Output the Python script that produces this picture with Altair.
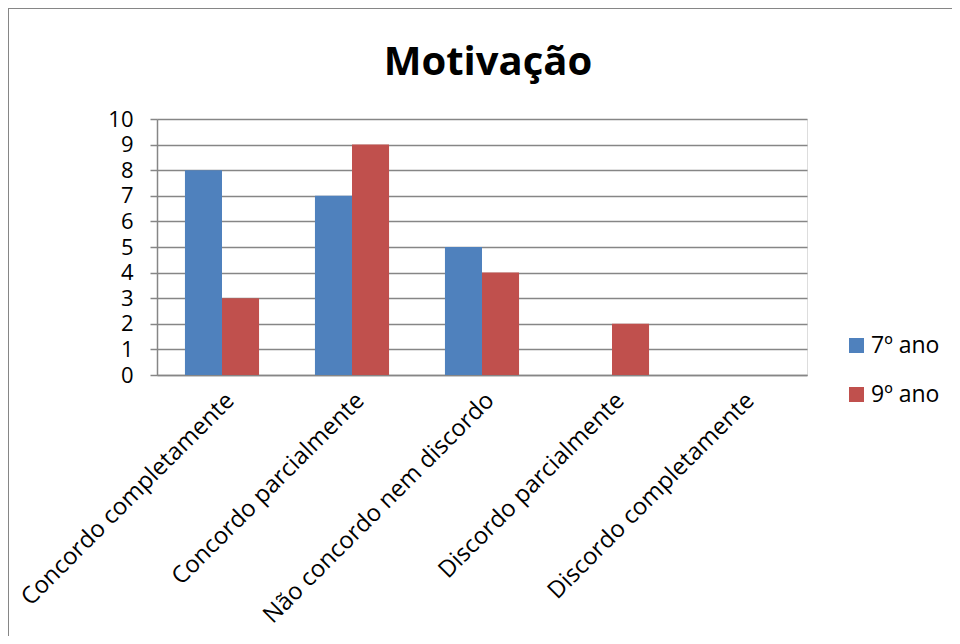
import altair as alt
import pandas as pd

categories = [
    "Concordo completamente",
    "Concordo parcialmente",
    "Não concordo nem discordo",
    "Discordo parcialmente",
    "Discordo completamente",
]
series_names = ["7º ano", "9º ano"]
ano7 = [8, 7, 5, 0, 0]
ano9 = [3, 9, 4, 2, 0]
y_ticks = list(range(0, 11))
colors = ["#4F81BD", "#C0504D"]
title_text = "Motivação"

rows = []
for c, v7, v9 in zip(categories, ano7, ano9):
    rows.append({"cat": c, "serie": series_names[0], "valor": v7})
    rows.append({"cat": c, "serie": series_names[1], "valor": v9})
df = pd.DataFrame(rows)

FONT = "Open Sans"
GRID = "#868686"

bars = alt.Chart(df).mark_bar().encode(
    x=alt.X(
        "cat:N",
        sort=categories,
        scale=alt.Scale(paddingInner=0.43, paddingOuter=0.215),
        axis=alt.Axis(
            title=None,
            labelAngle=-45,
            labelAlign="right",
            labelBaseline="top",
            labelPadding=13,
            labelFont=FONT,
            labelFontSize=23.8,
            labelColor="black",
            ticks=False,
            domain=True,
            domainColor=GRID,
            domainWidth=1.5,
            grid=False,
            labelLimit=0,
        ),
    ),
    xOffset=alt.XOffset("serie:N", sort=series_names),
    y=alt.Y(
        "valor:Q",
        scale=alt.Scale(domain=[0, 10], nice=False),
        axis=alt.Axis(
            title=None,
            values=y_ticks,
            labelFont=FONT,
            labelFontSize=22,
            labelColor="black",
            labelPadding=17,
            tickSize=7,
            tickColor=GRID,
            tickWidth=1.5,
            domainColor=GRID,
            domainWidth=1.5,
            gridColor=GRID,
            gridWidth=1.5,
            grid=True,
        ),
    ),
    color=alt.Color(
        "serie:N",
        sort=series_names,
        scale=alt.Scale(domain=series_names, range=colors),
        legend=alt.Legend(
            title=None,
            orient="none",
            legendX=688,
            legendY=215,
            symbolType="square",
            symbolSize=225,
            symbolStrokeWidth=0,
            labelFont=FONT,
            labelFontSize=23,
            labelColor="black",
            labelOffset=3,
            rowPadding=25,
            padding=0,
        ),
    ),
)

border = alt.Chart(pd.DataFrame({"a": [0]})).mark_rect(
    fill=None, stroke=GRID, strokeWidth=2
).encode(
    x=alt.value(-149), x2=alt.value(900), y=alt.value(-111), y2=alt.value(600)
)

title = alt.Chart(pd.DataFrame({"t": [title_text]})).mark_text(
    font=FONT, fontSize=40, fontWeight="bold", color="black",
    align="center", baseline="alphabetic",
).encode(
    text="t:N", x=alt.value(331), y=alt.value(-44)
)

chart = (
    alt.layer(border, bars, title)
    .properties(
        width=650,
        height=256,
        autosize=alt.AutoSizeParams(type="none"),
        padding={"left": 149, "top": 111, "right": 145, "bottom": 261},
    )
    .configure_view(stroke=None)
    .configure(background="white")
)

chart.save("out.html", embed_options={"renderer": "svg", "actions": False})
